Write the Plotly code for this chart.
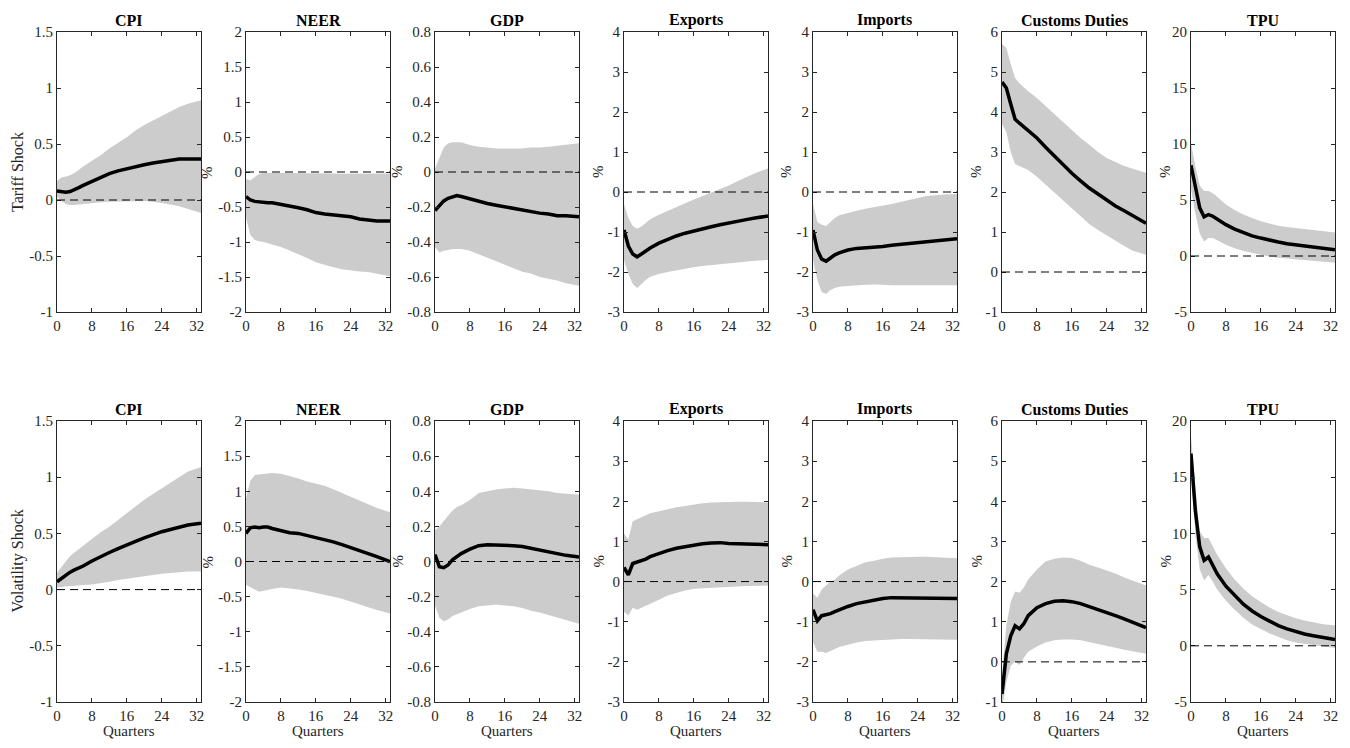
import plotly.graph_objects as go

# ---------------- data ----------------
quarters = [0, 1, 2, 3, 4, 5, 6, 8, 10, 12, 14, 16, 18, 20, 22, 24, 26, 28, 30, 33]
x_ticks = [0, 8, 16, 24, 32]
x_tick_labels = ["0", "8", "16", "24", "32"]

panel_titles = ["CPI", "NEER", "GDP", "Exports", "Imports", "Customs Duties", "TPU"]
row_labels = ["Tariff Shock", "Volatility Shock"]

# y tick values / labels per variable
yticks = {
    "CPI": [-1, -0.5, 0, 0.5, 1, 1.5],
    "NEER": [-2, -1.5, -1, -0.5, 0, 0.5, 1, 1.5, 2],
    "GDP": [-0.8, -0.6, -0.4, -0.2, 0, 0.2, 0.4, 0.6, 0.8],
    "Exports": [-3, -2, -1, 0, 1, 2, 3, 4],
    "Imports": [-3, -2, -1, 0, 1, 2, 3, 4],
    "Customs Duties": [-1, 0, 1, 2, 3, 4, 5, 6],
    "TPU": [-5, 0, 5, 10, 15, 20],
}
ytick_labels = {
    "CPI": ["-1", "-0.5", "0", "0.5", "1", "1.5"],
    "NEER": ["-2", "-1.5", "-1", "-0.5", "0", "0.5", "1", "1.5", "2"],
    "GDP": ["-0.8", "-0.6", "-0.4", "-0.2", "0", "0.2", "0.4", "0.6", "0.8"],
    "Exports": ["-3", "-2", "-1", "0", "1", "2", "3", "4"],
    "Imports": ["-3", "-2", "-1", "0", "1", "2", "3", "4"],
    "Customs Duties": ["-1", "0", "1", "2", "3", "4", "5", "6"],
    "TPU": ["-5", "0", "5", "10", "15", "20"],
}

# ---- Tariff shock (row 1) ----
cpi_t_mid = [0.08, 0.075, 0.07, 0.075, 0.09, 0.11, 0.13, 0.165, 0.2, 0.235, 0.26, 0.28, 0.30, 0.315, 0.33, 0.34, 0.355, 0.365, 0.365, 0.365]
cpi_t_hi = [0.17, 0.2, 0.21, 0.22, 0.24, 0.27, 0.3, 0.35, 0.4, 0.46, 0.51, 0.56, 0.62, 0.67, 0.71, 0.75, 0.79, 0.83, 0.86, 0.89]
cpi_t_lo = [0.03, -0.01, -0.035, -0.045, -0.045, -0.04, -0.035, -0.03, -0.02, -0.015, -0.01, -0.01, -0.01, -0.01, -0.015, -0.025, -0.04, -0.055, -0.08, -0.115]

neer_t_mid = [-0.35, -0.40, -0.42, -0.43, -0.43, -0.44, -0.44, -0.46, -0.49, -0.51, -0.54, -0.58, -0.60, -0.61, -0.63, -0.64, -0.67, -0.69, -0.70, -0.70]
neer_t_hi = [-0.10, -0.12, -0.07, -0.03, -0.01, -0.01, -0.01, -0.01, -0.015, -0.02, -0.02, -0.02, -0.02, -0.02, -0.025, -0.025, -0.025, -0.02, -0.02, -0.02]
neer_t_lo = [-0.65, -0.9, -0.97, -0.99, -1.0, -1.01, -1.03, -1.07, -1.12, -1.17, -1.23, -1.29, -1.33, -1.36, -1.39, -1.41, -1.42, -1.43, -1.45, -1.49]

gdp_t_mid = [-0.22, -0.19, -0.165, -0.15, -0.14, -0.135, -0.14, -0.155, -0.17, -0.18, -0.19, -0.20, -0.21, -0.22, -0.23, -0.235, -0.24, -0.25, -0.25, -0.255]
gdp_t_hi = [0.02, 0.08, 0.14, 0.165, 0.17, 0.17, 0.17, 0.155, 0.145, 0.14, 0.135, 0.135, 0.135, 0.135, 0.14, 0.14, 0.145, 0.15, 0.155, 0.165]
gdp_t_lo = [-0.43, -0.46, -0.45, -0.445, -0.44, -0.44, -0.44, -0.45, -0.47, -0.49, -0.51, -0.53, -0.55, -0.57, -0.58, -0.60, -0.61, -0.62, -0.635, -0.65]

exp_t_mid = [-0.95, -1.35, -1.55, -1.62, -1.55, -1.47, -1.40, -1.28, -1.18, -1.10, -1.03, -0.97, -0.91, -0.87, -0.82, -0.77, -0.73, -0.69, -0.65, -0.60]
exp_t_hi = [-0.3, -0.65, -0.85, -0.92, -0.86, -0.76, -0.68, -0.57, -0.47, -0.38, -0.29, -0.19, -0.1, -0.02, 0.06, 0.16, 0.27, 0.37, 0.47, 0.59]
exp_t_lo = [-1.7, -2.05, -2.3, -2.4, -2.3, -2.2, -2.12, -2.05, -2.0, -1.95, -1.92, -1.88, -1.85, -1.82, -1.8, -1.78, -1.76, -1.74, -1.72, -1.70]

imp_t_mid = [-0.95, -1.45, -1.68, -1.73, -1.65, -1.57, -1.52, -1.45, -1.41, -1.40, -1.38, -1.36, -1.33, -1.31, -1.29, -1.27, -1.25, -1.22, -1.19, -1.17]
imp_t_hi = [-0.3, -0.75, -0.82, -0.85, -0.75, -0.65, -0.58, -0.52, -0.47, -0.42, -0.38, -0.35, -0.3, -0.25, -0.2, -0.15, -0.1, -0.08, -0.06, -0.05]
imp_t_lo = [-1.7, -2.2, -2.5, -2.55, -2.45, -2.4, -2.37, -2.35, -2.33, -2.32, -2.31, -2.32, -2.33, -2.34, -2.34, -2.34, -2.33, -2.33, -2.33, -2.33]

cus_t_mid = [4.75, 4.6, 4.2, 3.82, 3.72, 3.63, 3.53, 3.35, 3.12, 2.9, 2.68, 2.47, 2.28, 2.1, 1.95, 1.8, 1.65, 1.53, 1.40, 1.22]
cus_t_hi = [5.7, 5.6, 5.2, 4.85, 4.72, 4.62, 4.52, 4.35, 4.15, 3.95, 3.75, 3.55, 3.35, 3.18, 3.0, 2.85, 2.75, 2.65, 2.58, 2.48]
cus_t_lo = [3.7, 3.5, 3.0, 2.7, 2.65, 2.6, 2.55, 2.38, 2.2, 2.0, 1.8, 1.6, 1.4, 1.2, 1.05, 0.9, 0.78, 0.65, 0.53, 0.43]

tpu_t_mid = [8.1, 6.0, 4.3, 3.5, 3.7, 3.55, 3.3, 2.8, 2.4, 2.1, 1.8, 1.6, 1.4, 1.25, 1.1, 1.0, 0.9, 0.8, 0.7, 0.55]
tpu_t_hi = [10.1, 8.0, 6.3, 5.8, 5.8, 5.6, 5.3, 4.6, 4.1, 3.7, 3.4, 3.1, 2.9, 2.7, 2.6, 2.5, 2.4, 2.3, 2.2, 2.1]
tpu_t_lo = [6.0, 3.8, 2.0, 1.3, 1.6, 1.6, 1.4, 1.0, 0.7, 0.45, 0.25, 0.1, -0.05, -0.15, -0.25, -0.35, -0.4, -0.45, -0.5, -0.6]

# ---- Volatility shock (row 2) ----
cpi_v_mid = [0.07, 0.1, 0.13, 0.155, 0.175, 0.19, 0.21, 0.255, 0.295, 0.33, 0.365, 0.40, 0.43, 0.46, 0.49, 0.515, 0.535, 0.555, 0.575, 0.59]
cpi_v_hi = [0.15, 0.2, 0.25, 0.3, 0.33, 0.36, 0.39, 0.45, 0.51, 0.56, 0.62, 0.68, 0.74, 0.8, 0.85, 0.9, 0.95, 1.0, 1.05, 1.09]
cpi_v_lo = [0.02, 0.02, 0.03, 0.03, 0.035, 0.035, 0.04, 0.045, 0.055, 0.07, 0.085, 0.1, 0.11, 0.12, 0.13, 0.14, 0.15, 0.155, 0.16, 0.16]

neer_v_mid = [0.4, 0.48, 0.49, 0.48, 0.49, 0.49, 0.47, 0.44, 0.41, 0.40, 0.37, 0.34, 0.32, 0.28, 0.24, 0.2, 0.16, 0.12, 0.07, 0.0]
neer_v_hi = [0.9, 1.15, 1.23, 1.24, 1.25, 1.26, 1.26, 1.25, 1.22, 1.18, 1.14, 1.11, 1.08, 1.03, 0.97, 0.92, 0.87, 0.81, 0.76, 0.7]
neer_v_lo = [-0.33, -0.36, -0.4, -0.43, -0.41, -0.4, -0.39, -0.37, -0.38, -0.4, -0.42, -0.45, -0.47, -0.5, -0.53, -0.56, -0.6, -0.65, -0.69, -0.74]

gdp_v_mid = [0.04, -0.03, -0.035, -0.02, 0.01, 0.03, 0.045, 0.07, 0.09, 0.095, 0.095, 0.095, 0.09, 0.085, 0.075, 0.065, 0.055, 0.045, 0.035, 0.025]
gdp_v_hi = [0.18, 0.2, 0.23, 0.26, 0.29, 0.31, 0.32, 0.35, 0.39, 0.40, 0.41, 0.415, 0.42, 0.415, 0.41, 0.405, 0.4, 0.39, 0.385, 0.38]
gdp_v_lo = [-0.25, -0.32, -0.34, -0.33, -0.31, -0.3, -0.29, -0.27, -0.255, -0.25, -0.245, -0.25, -0.255, -0.265, -0.28, -0.29, -0.305, -0.32, -0.335, -0.355]

exp_v_mid = [0.35, 0.17, 0.45, 0.48, 0.52, 0.56, 0.62, 0.7, 0.77, 0.83, 0.87, 0.91, 0.94, 0.96, 0.97, 0.95, 0.95, 0.94, 0.93, 0.92]
exp_v_hi = [1.2, 1.05, 1.5, 1.55, 1.6, 1.65, 1.7, 1.75, 1.8, 1.85, 1.88, 1.92, 1.95, 1.97, 1.98, 1.99, 1.99, 1.99, 1.98, 1.97]
exp_v_lo = [-0.75, -0.85, -0.65, -0.7, -0.65, -0.6, -0.55, -0.45, -0.35, -0.28, -0.22, -0.18, -0.16, -0.15, -0.14, -0.13, -0.12, -0.11, -0.1, -0.1]

imp_v_mid = [-0.7, -0.98, -0.85, -0.83, -0.8, -0.75, -0.7, -0.62, -0.55, -0.5, -0.46, -0.42, -0.4, -0.4, -0.41, -0.42, -0.42, -0.42, -0.42, -0.42]
imp_v_hi = [-0.3, -0.4, -0.2, -0.1, 0.0, 0.05, 0.15, 0.3, 0.4, 0.48, 0.52, 0.57, 0.6, 0.61, 0.61, 0.62, 0.62, 0.61, 0.6, 0.58]
imp_v_lo = [-1.5, -1.75, -1.75, -1.78, -1.73, -1.68, -1.63, -1.57, -1.52, -1.48, -1.46, -1.45, -1.44, -1.43, -1.43, -1.43, -1.43, -1.44, -1.44, -1.45]

cus_v_mid = [-0.8, 0.2, 0.65, 0.9, 0.82, 0.95, 1.15, 1.35, 1.45, 1.51, 1.52, 1.5, 1.45, 1.38, 1.3, 1.23, 1.15, 1.07, 0.98, 0.85]
cus_v_hi = [-0.3, 0.9, 1.5, 1.75, 1.72, 1.85, 2.05, 2.3, 2.5, 2.57, 2.6, 2.59, 2.52, 2.42, 2.35, 2.28, 2.2, 2.1, 2.02, 1.9]
cus_v_lo = [-1.2, -0.5, -0.1, 0.0, -0.08, 0.1, 0.25, 0.38, 0.48, 0.54, 0.56, 0.56, 0.54, 0.5, 0.45, 0.4, 0.35, 0.3, 0.25, 0.2]

tpu_v_mid = [17.1, 12.0, 8.8, 7.6, 7.9, 7.2, 6.4, 5.3, 4.5, 3.7, 3.1, 2.6, 2.2, 1.8, 1.5, 1.25, 1.05, 0.9, 0.75, 0.55]
tpu_v_hi = [18.7, 14.0, 10.2, 9.6, 9.6, 8.9, 8.1, 6.9, 5.9, 5.1, 4.4, 3.9, 3.4, 3.0, 2.7, 2.45, 2.25, 2.1, 1.95, 1.8]
tpu_v_lo = [15.5, 10.0, 6.8, 5.8, 6.3, 5.7, 5.0, 4.0, 3.2, 2.5, 1.9, 1.5, 1.1, 0.8, 0.5, 0.3, 0.15, 0.05, -0.05, -0.2]

rows = [
    [(cpi_t_mid, cpi_t_lo, cpi_t_hi), (neer_t_mid, neer_t_lo, neer_t_hi), (gdp_t_mid, gdp_t_lo, gdp_t_hi),
     (exp_t_mid, exp_t_lo, exp_t_hi), (imp_t_mid, imp_t_lo, imp_t_hi), (cus_t_mid, cus_t_lo, cus_t_hi),
     (tpu_t_mid, tpu_t_lo, tpu_t_hi)],
    [(cpi_v_mid, cpi_v_lo, cpi_v_hi), (neer_v_mid, neer_v_lo, neer_v_hi), (gdp_v_mid, gdp_v_lo, gdp_v_hi),
     (exp_v_mid, exp_v_lo, exp_v_hi), (imp_v_mid, imp_v_lo, imp_v_hi), (cus_v_mid, cus_v_lo, cus_v_hi),
     (tpu_v_mid, tpu_v_lo, tpu_v_hi)],
]

# ---------------- layout geometry (page pixels) ----------------
PAGE_MARGIN = 8                      # default <body> margin of the written page
W, H = 1350 - 2 * PAGE_MARGIN, 748 - 2 * PAGE_MARGIN
col_left = [57, 246, 435, 624, 813, 1002, 1191]
col_width = 144
row_top = [32, 421]
row_bottom = [312, 702]
pct_offset = [0, 39, 38, 26, 27, 26, 26]

FONT = "Liberation Serif"
AX = "#262626"

def px(x):
    return (x - PAGE_MARGIN) / W

def py(y):
    return 1 - (y - PAGE_MARGIN) / H

fig = go.Figure()
annotations = []
shapes = []

for r in range(2):
    for c in range(7):
        idx = r * 7 + c + 1
        xa = "x" if idx == 1 else f"x{idx}"
        ya = "y" if idx == 1 else f"y{idx}"
        mid, lo, hi = rows[r][c]
        name = panel_titles[c]
        fig.add_trace(go.Scatter(
            x=quarters + quarters[::-1], y=hi + lo[::-1], fill="toself",
            fillcolor="#cccccc", line=dict(width=0), mode="lines",
            hoverinfo="skip", showlegend=False, xaxis=xa, yaxis=ya))
        fig.add_trace(go.Scatter(
            x=quarters, y=mid, mode="lines", line=dict(color="black", width=3.5),
            showlegend=False, xaxis=xa, yaxis=ya))
        shapes.append(dict(type="line", xref=f"{xa} domain", yref=ya, x0=0, x1=1, y0=0, y1=0,
                           line=dict(color="black", width=1, dash="8px,5px"), layer="above"))
        xkey = "xaxis" if idx == 1 else f"xaxis{idx}"
        ykey = "yaxis" if idx == 1 else f"yaxis{idx}"
        fig.layout[xkey] = dict(
            domain=[px(col_left[c]), px(col_left[c] + col_width)], anchor=ya,
            range=[0, 33], tickvals=x_ticks, ticktext=x_tick_labels,
            showline=True, linecolor=AX, linewidth=1, mirror="ticks",
            ticks="inside", ticklen=4, tickcolor=AX, showgrid=False, zeroline=False,
            automargin=False,
            tickfont=dict(family=FONT, size=15, color=AX),
        )
        fig.layout[ykey] = dict(
            domain=[py(row_bottom[r]), py(row_top[r])], anchor=xa,
            range=[yticks[name][0], yticks[name][-1]], tickvals=yticks[name], ticktext=ytick_labels[name],
            showline=True, linecolor=AX, linewidth=1, mirror="ticks",
            ticks="inside", ticklen=4, tickcolor=AX, showgrid=False, zeroline=False,
            automargin=False,
            tickfont=dict(family=FONT, size=15, color=AX),
        )
        # panel title
        annotations.append(dict(
            text=f"<b>{name}</b>", x=px(col_left[c] + col_width / 2), y=py(row_top[r] - 12),
            xref="paper", yref="paper", xanchor="center", yanchor="middle", showarrow=False,
            font=dict(family=FONT, size=16, color="black")))
        if r == 1:
            annotations.append(dict(
                text="Quarters", x=px(col_left[c] + col_width / 2), y=0,
                xref="paper", yref="paper", xanchor="center", yanchor="bottom", showarrow=False,
                borderpad=0, font=dict(family=FONT, size=15, color=AX)))
        yc = (row_top[r] + row_bottom[r]) / 2
        if c == 0:
            annotations.append(dict(
                text=row_labels[r], x=px(17), y=py(yc), xref="paper", yref="paper",
                xanchor="center", yanchor="middle", textangle=-90, showarrow=False,
                font=dict(family=FONT, size=16, color=AX)))
        else:
            annotations.append(dict(
                text="%", x=px(col_left[c] - pct_offset[c]), y=py(yc), xref="paper", yref="paper",
                xanchor="center", yanchor="middle", textangle=-90, showarrow=False,
                font=dict(family=FONT, size=15, color=AX)))

fig.update_layout(
    width=W, height=H, margin=dict(l=0, r=0, t=0, b=0, autoexpand=False),
    paper_bgcolor="white", plot_bgcolor="white",
    annotations=annotations, shapes=shapes, showlegend=False,
)

fig.write_html("out.html")
